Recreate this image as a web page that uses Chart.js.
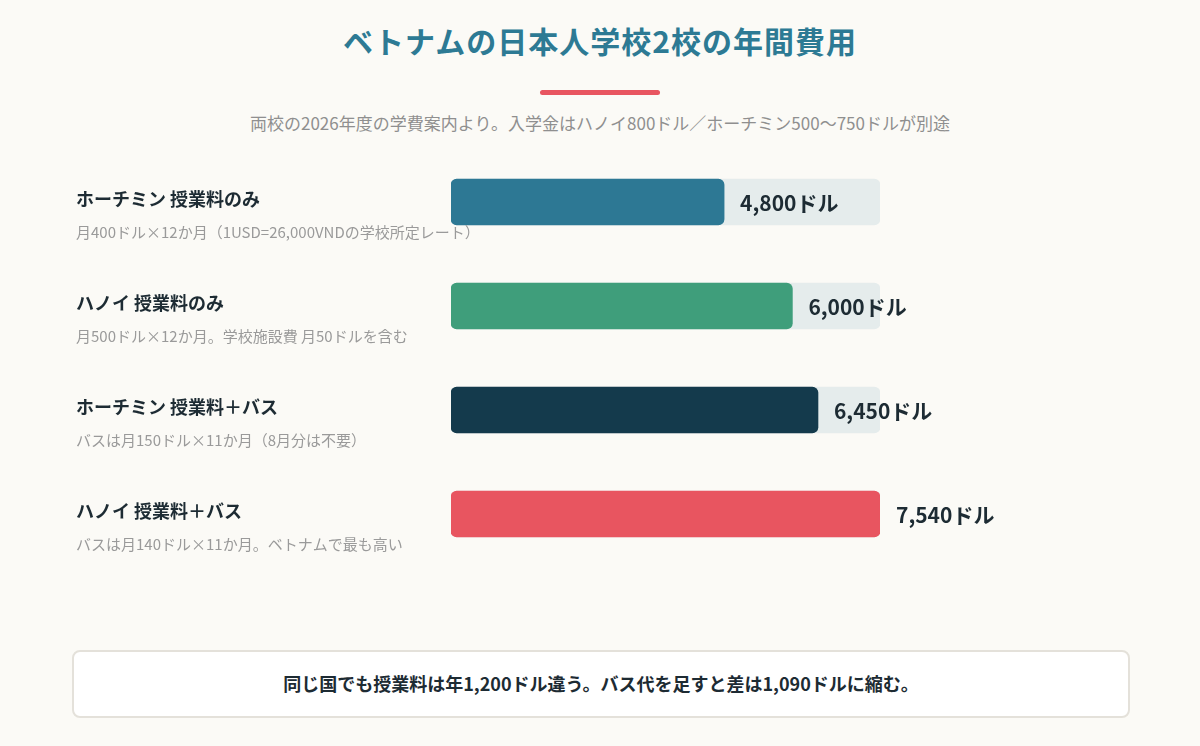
<!DOCTYPE html>
<html><head><meta charset="utf-8">
<script src="https://cdn.jsdelivr.net/npm/chart.js@4"></script>
<style>
body{margin:0;width:1200px;height:746px;background:#fbfaf6;font-family:"Noto Sans CJK JP",sans-serif;position:relative;overflow:hidden}
h1{position:absolute;top:18px;width:100%;text-align:center;margin:0;font-size:30px;color:#2d7a94;font-weight:700;letter-spacing:1px}
.rule{position:absolute;left:540px;top:90px;width:120px;height:5px;background:#e85560;border-radius:3px}
.sub{position:absolute;top:110px;width:100%;text-align:center;font-size:17px;color:#8f8f8f}
#wrap{position:absolute;left:0;top:150px;width:1200px;height:416px}
.note{position:absolute;left:72px;top:650px;width:1054px;height:64px;border:2px solid #e4e1da;border-radius:8px;background:#fff;text-align:center;line-height:62px;font-size:18px;font-weight:700;color:#1d2b33}
</style></head><body>
<h1>ベトナムの日本人学校2校の年間費用</h1>
<div class="rule"></div>
<div class="sub">両校の2026年度の学費案内より。入学金はハノイ800ドル／ホーチミン500〜750ドルが別途</div>
<div id="wrap"><canvas id="c"></canvas></div>
<div class="note">同じ国でも授業料は年1,200ドル違う。バス代を足すと差は1,090ドルに縮む。</div>
<script>
const categories = ["ホーチミン 授業料のみ", "ハノイ 授業料のみ", "ホーチミン 授業料＋バス", "ハノイ 授業料＋バス"];
const notes = ["月400ドル×12か月（1USD=26,000VNDの学校所定レート）", "月500ドル×12か月。学校施設費 月50ドルを含む", "バスは月150ドル×11か月（8月分は不要）", "バスは月140ドル×11か月。ベトナムで最も高い"];
const values = [4800, 6000, 6450, 7540];
const colors = ["#2d7894", "#3f9e7b", "#143a4c", "#e85560"];
const maxVal = 7540;

const labelPlugin = {
  id: "labels",
  afterDatasetsDraw(chart) {
    const ctx = chart.ctx, y = chart.scales.y, x = chart.scales.x;
    ctx.save();
    categories.forEach((c, i) => {
      const cy = y.getPixelForValue(i);
      ctx.textBaseline = "middle";
      ctx.textAlign = "left";
      ctx.fillStyle = "#1d2b33";
      ctx.font = "bold 18px 'Noto Sans CJK JP'";
      ctx.fillText(c, 76, cy - 3);
      ctx.fillStyle = "#9a9a9a";
      ctx.font = "15px 'Noto Sans CJK JP'";
      ctx.fillText(notes[i], 76, cy + 30);
      ctx.fillStyle = "#1d2b33";
      ctx.font = "bold 21px 'Noto Sans CJK JP'";
      ctx.fillText(values[i].toLocaleString("en-US") + "ドル", x.getPixelForValue(values[i]) + 16, cy + 1);
    });
    ctx.restore();
  }
};

new Chart(document.getElementById("c"), {
  type: "bar",
  data: {
    labels: categories,
    datasets: [
      { data: values, backgroundColor: colors, borderRadius: 6, borderSkipped: false, barThickness: 46, order: 1 },
      { data: values.map(() => maxVal), backgroundColor: "#e5ecec", borderRadius: 6, borderSkipped: false, barThickness: 46, order: 2 }
    ]
  },
  options: {
    indexAxis: "y",
    responsive: true,
    maintainAspectRatio: false,
    animation: false,
    layout: { padding: { left: 451, right: 320, top: 0, bottom: 0 } },
    datasets: { bar: { grouped: false } },
    scales: {
      x: { display: false, min: 0, max: maxVal },
      y: { display: false }
    },
    plugins: { legend: { display: false }, tooltip: { enabled: false } }
  },
  plugins: [labelPlugin]
});
</script>
</body></html>
